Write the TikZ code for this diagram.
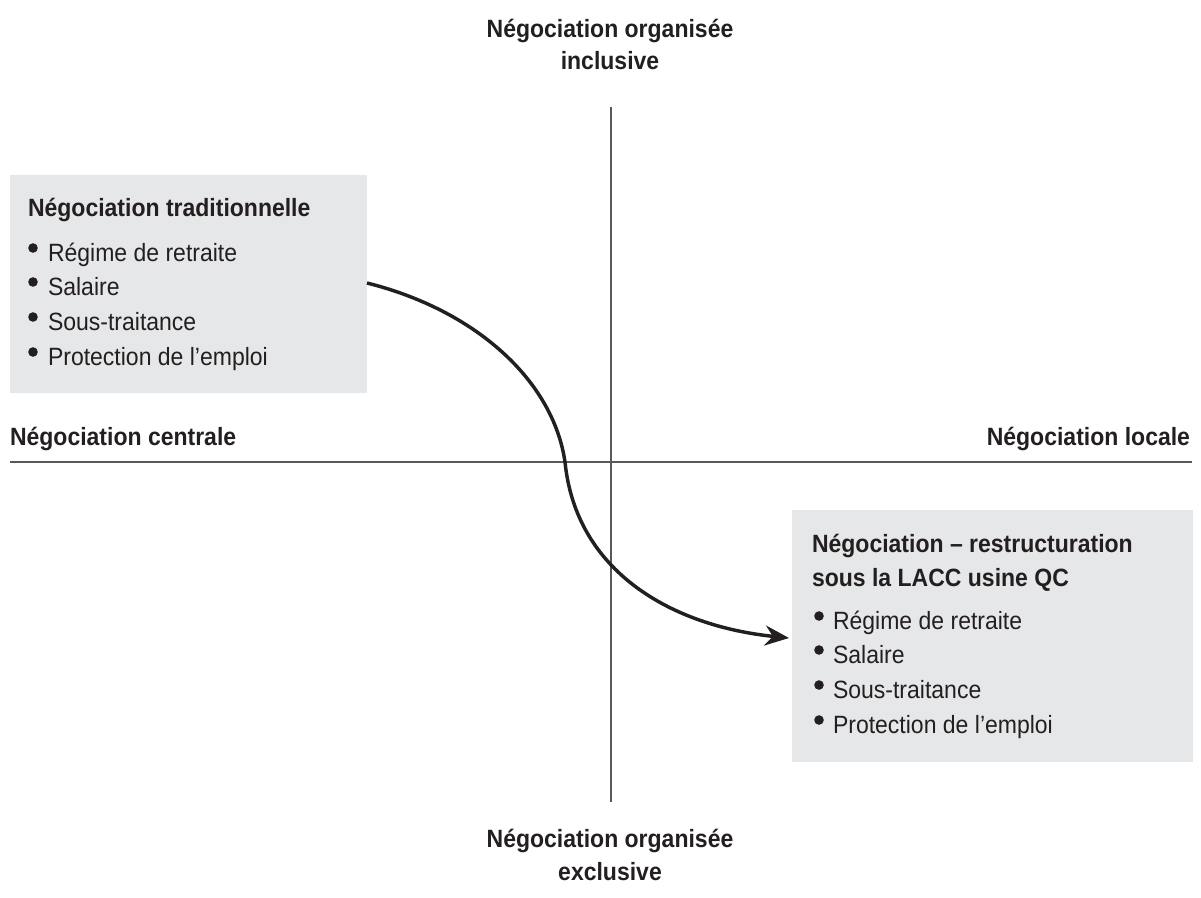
\documentclass[tikz,border=0pt]{standalone}
\usepackage{fontspec}
\setmainfont[FakeStretch=0.92]{Liberation Sans}
\usetikzlibrary{arrows.meta}
\definecolor{ink}{HTML}{231F20}
\definecolor{axis}{HTML}{58595B}
\definecolor{boxfill}{HTML}{E6E7E8}
\begin{document}
\begin{tikzpicture}[x=0.75pt,y=-0.75pt,
  every node/.style={inner sep=0pt,outer sep=0pt,text=ink,font=\fontsize{18.75}{22}\selectfont},
  lbl/.style={font=\fontsize{18.75}{22}\selectfont\bfseries},
  ttl/.style={anchor=base west,font=\fontsize{18.75}{22}\selectfont\bfseries},
  itm/.style={anchor=base west},
  panel/.style={fill=boxfill,draw=none,anchor=north west},
  axisline/.style={draw=axis,line width=0.9pt},
  dot/.style={fill=ink},
  flow/.style={draw=ink,line width=2.6pt,-{Stealth[length=18pt,width=15pt]}}
]
\useasboundingbox (0,0) rectangle (1201,897);
% panels
\node[panel,minimum width=357*0.75pt,minimum height=218*0.75pt] (L) at (10,175) {};
\node[panel,minimum width=401*0.75pt,minimum height=252*0.75pt] (R) at (792,510) {};
% axes
\coordinate (vtop) at (611,107);
\coordinate (vbot) at (611,802);
\coordinate (hl) at (10,462);
\coordinate (hr) at (1192,462);
\draw[axisline] (vtop) -- (vbot);
\draw[axisline] (hl) -- (hr);
% axis labels
\node[lbl,anchor=base] (top1) at (610,37) {Négociation organisée};
\node[lbl,anchor=base] (top2) at (610,69) {inclusive};
\node[lbl,anchor=base] (bot1) at (610,847) {Négociation organisée};
\node[lbl,anchor=base] (bot2) at (610,880) {exclusive};
\node[lbl,anchor=base west] (cen) at (10,445) {Négociation centrale};
\node[lbl,anchor=base east] (loc) at (1190,445) {Négociation locale};
% left panel text
\node[ttl] (Lt) at (28,216) {Négociation traditionnelle};
\node[itm] (L1) at (48,261) {Régime de retraite};
\node[itm] (L2) at (48,295) {Salaire};
\node[itm] (L3) at (48,330) {Sous-traitance};
\node[itm] (L4) at (48,365) {Protection de l’emploi};
\foreach \yy in {261,295,330,365} \fill[dot] (33,\yy-13) circle[radius=3.6pt];
% right panel text
\node[ttl] (Rt1) at (812,552) {Négociation – restructuration};
\node[ttl] (Rt2) at (812,586) {sous la LACC usine QC};
\node[itm] (R1) at (833,629) {Régime de retraite};
\node[itm] (R2) at (833,663) {Salaire};
\node[itm] (R3) at (833,698) {Sous-traitance};
\node[itm] (R4) at (833,733) {Protection de l’emploi};
\foreach \yy in {629,663,698,733} \fill[dot] (819,\yy-13) circle[radius=3.6pt];
% arrow
\coordinate (a0) at (L.north east |- 0,283);
\coordinate (mid) at (565,462);
\coordinate (a1) at (789,638);
\draw[flow] (a0) .. controls (475,310) and (553,380) .. (mid)
  .. controls (576,572) and (672,626) .. (a1);
\end{tikzpicture}
\end{document}
